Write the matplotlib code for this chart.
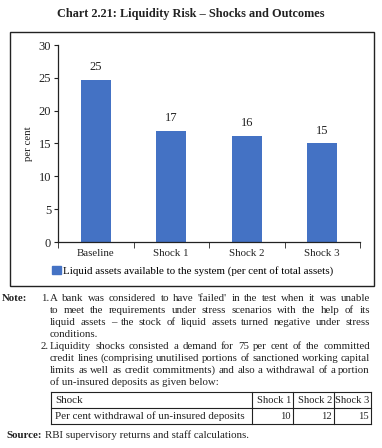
import matplotlib.pyplot as plt
from matplotlib.patches import Rectangle
from matplotlib.lines import Line2D

W, H = 382, 448

categories = ['Baseline', 'Shock 1', 'Shock 2', 'Shock 3']
liquid_assets = [24.7, 16.9, 16.1, 15.0]
legend_label = 'Liquid assets available to the system (per cent of total assets)'
title = 'Chart 2.21: Liquidity Risk \u2013 Shocks and Outcomes'

note1 = ["A bank was considered to have 'failed' in the test when it was unable",
         "to meet the requirements under stress scenarios with the help of its",
         "liquid assets \u2013 the stock of liquid assets turned negative under stress",
         "conditions."]
note2 = ["Liquidity shocks consisted a demand for 75 per cent of the committed",
         "credit lines (comprising unutilised portions of sanctioned working capital",
         "limits as well as credit commitments) and also a withdrawal of a portion",
         "of un-insured deposits as given below:"]
table_header = ['Shock', 'Shock 1', 'Shock 2', 'Shock 3']
table_row = ['Per cent withdrawal of un-insured deposits', '10', '12', '15']
source = 'RBI supervisory returns and staff calculations.'

plt.rcParams['font.family'] = ['Liberation Serif', 'DejaVu Serif']
blue = '#4472C4'
ink = '#222222'


def fx(x):
    return x / W


def fy(y):
    return 1 - y / H


fig = plt.figure(figsize=(W / 100, H / 100), dpi=100)
fig.patch.set_facecolor('white')

# frame round the chart
fig.add_artist(Rectangle((fx(10), fy(286)), (374 - 10) / W, (286 - 32) / H,
                         transform=fig.transFigure, fill=False, ec=ink, lw=1.0))

fig.text(fx(191), fy(14), title, ha='center', va='center', fontsize=8.8,
         fontweight='bold', color=ink)

ax = fig.add_axes([fx(58), fy(242), (360 - 58) / W, (242 - 45) / H])
bars = ax.bar(range(len(categories)), liquid_assets, width=0.4, color=blue,
              label=legend_label)
ax.bar_label(bars, fmt='{:.0f}', padding=5, fontsize=9, color=ink)
ax.set_xlim(-0.5, 3.5)
ax.set_ylim(0, 30)
ax.set_yticks(range(0, 31, 5))
ax.set_xticks(range(len(categories)))
ax.set_xticklabels(categories)
ax.set_xticks([-0.5, 0.5, 1.5, 2.5, 3.5], minor=True)
ax.tick_params(axis='x', which='major', length=0, pad=5, labelsize=7.8, colors=ink)
ax.tick_params(axis='x', which='minor', length=4, direction='out', color=ink)
ax.tick_params(axis='y', length=3, pad=2, labelsize=9, colors=ink)
for s in ['top', 'right']:
    ax.spines[s].set_visible(False)
for s in ['left', 'bottom']:
    ax.spines[s].set_color(ink)
    ax.spines[s].set_linewidth(0.9)
ax.set_ylabel('per cent', fontsize=7.8, color=ink, labelpad=4)

fig.legend(handles=[Rectangle((0, 0), 1, 1, color=blue)], labels=[legend_label],
           loc='center', bbox_to_anchor=(fx(193), fy(271)), frameon=False,
           fontsize=7.9, handlelength=0.75, handleheight=0.75, handletextpad=0.25,
           borderaxespad=0)

renderer = fig.canvas.get_renderer()
fs = 7.8


def txt(x, y, s, **kw):
    # y is the line's middle in pixels; draw on the baseline so words line up
    kw.setdefault('fontsize', fs)
    kw.setdefault('ha', 'left')
    return fig.text(fx(x), fy(y + 3), s, va='baseline', color=ink, **kw)


def put_line(text, x0, x1, y, justify):
    if not justify:
        txt(x0, y, text)
        return
    words = text.split(' ')
    arts = [txt(0, y, w) for w in words]
    widths = [a.get_window_extent(renderer).width for a in arts]
    gap = (x1 - x0 - sum(widths)) / (len(words) - 1)
    x = x0
    for a, wd in zip(arts, widths):
        a.set_x(fx(x))
        x += wd + gap


txt(2, 298, 'Note:', fontweight='bold')
txt(41, 298, '1.')
ys = [298, 310, 322, 334]
for i, (line, y) in enumerate(zip(note1, ys)):
    put_line(line, 50, 370, y, i < len(note1) - 1)
txt(41, 346, '2.')
ys = [346, 358, 370, 382]
for i, (line, y) in enumerate(zip(note2, ys)):
    put_line(line, 50, 370, y, i < len(note2) - 1)

# small table
cols = [51, 252, 293, 334, 371]
rows = [392, 408, 424]
for x in cols:
    fig.add_artist(Line2D([fx(x), fx(x)], [fy(rows[0]), fy(rows[-1])],
                          transform=fig.transFigure, color=ink, lw=0.8))
for y in rows:
    fig.add_artist(Line2D([fx(cols[0]), fx(cols[-1])], [fy(y), fy(y)],
                          transform=fig.transFigure, color=ink, lw=0.8))
for r, cells in enumerate([table_header, table_row]):
    yc = (rows[r] + rows[r + 1]) / 2
    txt(cols[0] + 4, yc, cells[0], fontsize=7.9)
    for c in range(1, 4):
        txt(cols[c + 1] - 2, yc, cells[c], fontsize=7.6, ha='right')

txt(6, 435, 'Source:', fontweight='bold')
txt(45, 435, source)

fig.savefig('out.png', dpi=100)
